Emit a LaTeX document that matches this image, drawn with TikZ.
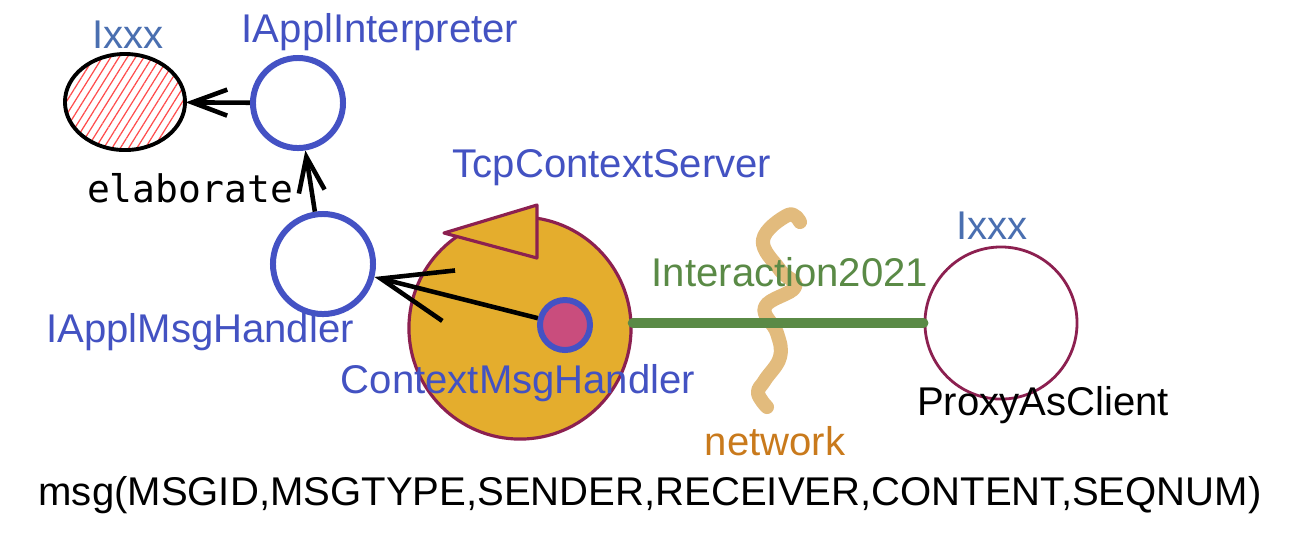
\documentclass[tikz,border=0pt]{standalone}
\usepackage{fontspec}
\setmainfont{Liberation Sans}
\setmonofont{DejaVu Sans Mono}
\usepackage{xcolor}
\usetikzlibrary{arrows.meta,positioning,shapes.geometric,patterns.meta,calc}
\definecolor{lblblue}{HTML}{4352C2}
\definecolor{ixblue}{HTML}{4A6FB0}
\definecolor{ringblue}{HTML}{4452C4}
\definecolor{srvorange}{HTML}{E4AD2D}
\definecolor{maroon}{HTML}{8C2050}
\definecolor{pinkfill}{HTML}{C94D7D}
\definecolor{wiregreen}{HTML}{5A8A46}
\definecolor{nettan}{HTML}{E2BB7D}
\definecolor{netbrown}{HTML}{C97A1C}

\begin{document}
\begin{tikzpicture}[x=0.01cm, y=-0.01cm, every node/.style={font=\fontsize{11.4}{13}\selectfont, align=center, inner sep=0pt},
  ring/.style={circle, draw=ringblue, line width=1.7pt},
  lbl/.style={text=lblblue},
  sk/.style={line width=1.3pt, -{Straight Barb[length=3.5mm, width=2.6mm]}}]
\useasboundingbox (0,0) rectangle (1308,553);

\node (ixA) [ellipse, draw, line width=1.1pt, pattern={Lines[angle=58, distance=2pt, line width=0.35pt]}, pattern color=red!70, minimum width=1.2cm, minimum height=0.96cm] at (125,102) {};
\node (ixAlbl) [text=ixblue] at (128,35) {Ixxx};
\node (aint) [ring, minimum size=0.9cm] at (298,103) {};
\node (aintlbl) [lbl] at (380,32) {IApplInterpreter};
\node (amh) [ring, minimum size=1cm] at (323,264) {};
\node (amhlbl) [lbl] at (200,332) {IApplMsgHandler};
\node (elab) [font=\fontsize{10.8}{13}\ttfamily] at (190,188) {elaborate};

\node (tcs) [circle, draw=maroon, line width=0.9pt, fill=srvorange, minimum size=2.22cm] at (520,328) {};
\draw[draw=maroon, line width=0.9pt, fill=srvorange, line join=round] (444,233) -- (537,205) -- (537,258) -- cycle;
\node (tcslbl) [lbl] at (612,168) {TcpContextServer};
\node (cmh) [ring, fill=pinkfill, minimum size=0.5cm] at (565,325) {};
\node (cmhlbl) [lbl] at (518,383) {ContextMsgHandler};

\node (pac) [circle, draw=maroon, line width=0.8pt, minimum size=1.52cm] at (1001,323) {};
\node (paclbl) at (1043,405) {ProxyAsClient};
\node (ixB) [text=ixblue] at (992,226) {Ixxx};

\draw[nettan, line width=4pt, line cap=round, line join=round] plot[smooth, tension=0.7] coordinates {(800,222) (788,215) (763,240) (780,270) (795,287) (765,307) (777,333) (780,357) (765,380) (758,393) (767,407)};
\node (netlbl) [text=netbrown] at (775,441) {network};

\draw[wiregreen, line width=2.8pt, line cap=round] (tcs.east |- pac.west) -- (pac.west);
\node (wirelbl) [text=wiregreen] at (790,272) {Interaction2021};

\draw[sk] (aint) -- (ixA);
\draw[sk] (amh) -- (aint);
\draw[line width=1.3pt, -{Straight Barb[length=7mm, width=5.2mm]}] (cmh) -- (amh);

\node (msg) at (650,495) {msg(MSGID,MSGTYPE,SENDER,RECEIVER,CONTENT,SEQNUM)};
\end{tikzpicture}
\end{document}
